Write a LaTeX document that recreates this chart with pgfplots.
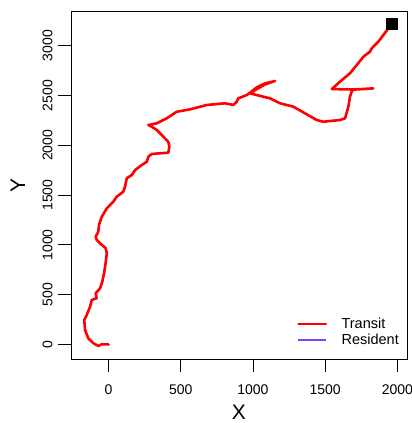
\documentclass[border=0pt]{standalone}
\usepackage{pgfplots}
\pgfplotsset{compat=1.18}
\usepackage{fontspec}
\setmainfont{Liberation Sans}
\definecolor{resid}{RGB}{128,64,255}
\begin{document}
\begin{tikzpicture}
\begin{axis}[
  set layers,
  scale only axis,
  anchor=south west, at={(0pt,0pt)},
  width=336pt, height=348pt,
  xmin=-260, xmax=2067, ymin=-146, ymax=3349,
  xtick={0,500,1000,1500,2000},
  ytick={0,500,1000,1500,2000,2500,3000},
  tick align=outside,
  major tick length=13pt,
  tick style={black, line width=0.8pt},
  axis line style={line width=0.8pt},
  xtick pos=bottom, ytick pos=left,
  /pgf/number format/assume math mode=true,
  /pgf/number format/1000 sep={},
  ticklabel style={font=\fontsize{14}{16}\selectfont},
  xticklabel style={yshift=-9pt},
  yticklabel style={xshift=-2pt, rotate=90, anchor=south},
  xlabel={X}, ylabel={Y},
  label style={font=\fontsize{21}{24}\selectfont},
  xlabel style={at={(axis description cs:0.5,0)}, anchor=center, yshift=-53pt},
  ylabel style={at={(axis description cs:0,0.5)}, anchor=center, yshift=53pt},
  legend style={at={(rel axis cs:1,0)}, anchor=south east, draw=none, fill=white,
    font=\fontsize{14.5}{16}\selectfont, row sep=0pt, inner xsep=6pt, inner ysep=11pt},
  legend cell align=left,
  legend image code/.code={\path (-10pt,0pt) (40pt,0pt); \draw[#1, line width=1.6pt] (0pt,0pt) -- (28pt,0pt);},
]
\addplot[red, line width=2.6pt, line join=round, line cap=round] coordinates {
(0,0) (-47,2) (-71,-15) (-105,12) (-140,62) (-163,146) (-168,246) (-151,296)
(-128,380) (-116,447) (-82,464) (-89,514) (-59,564) (-43,631) (-29,731) (-19,831)
(-12,916) (-19,966) (-59,1016) (-82,1049) (-89,1082) (-71,1133) (-66,1200) (-47,1283)
(-12,1367) (33,1434) (57,1484) (102,1534) (114,1584) (126,1669) (161,1702) (184,1752)
(230,1802) (265,1835) (276,1886) (299,1913) (357,1920) (414,1926) (421,1986) (414,2036)
(380,2086) (334,2154) (299,2187) (276,2204) (334,2221) (403,2271) (472,2337) (564,2361)
(680,2405) (807,2422) (864,2405) (888,2438) (899,2472) (957,2505) (980,2528) (1026,2582)
(1084,2622) (1153,2646) (1084,2612) (1021,2560) (980,2522) (1072,2488) (1118,2472)
(1188,2422) (1280,2388) (1361,2321) (1442,2254) (1488,2237) (1534,2244) (1603,2254)
(1638,2271) (1661,2388) (1672,2488) (1684,2538) (1695,2560) (1834,2572) (1707,2560)
(1546,2565) (1603,2639) (1672,2723) (1719,2806) (1765,2890) (1811,2940) (1823,2974)
(1868,3040) (1903,3107) (1926,3151) (1956,3215)
};
\addlegendentry{Transit}
\addplot[only marks, mark=square*, mark size=5.5pt, black, forget plot] coordinates {(1959,3225)};
\addlegendimage{color=resid}
\addlegendentry{Resident}
\end{axis}
\pgfresetboundingbox
\useasboundingbox (-71pt,-64pt) rectangle (341pt,359pt);
\end{tikzpicture}
\end{document}
